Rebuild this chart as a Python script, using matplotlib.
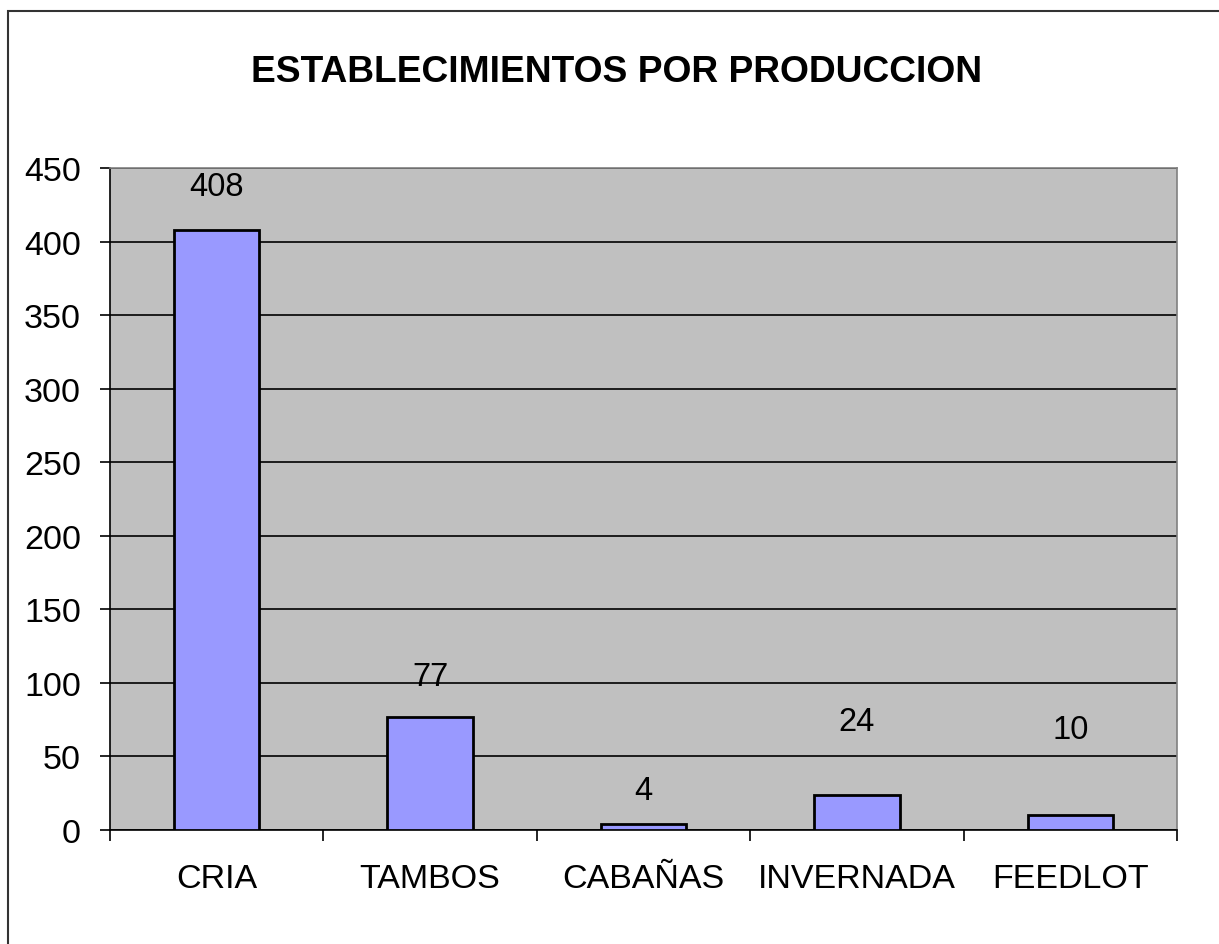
import matplotlib
matplotlib.use("Agg")
import matplotlib.pyplot as plt
from matplotlib.patches import Rectangle

categories = ["CRIA", "TAMBOS", "CABAÑAS", "INVERNADA", "FEEDLOT"]
values = [408, 77, 4, 24, 10]
yticks = [0, 50, 100, 150, 200, 250, 300, 350, 400, 450]
title = "ESTABLECIMIENTOS POR PRODUCCION"

# label offsets above bar tops (points) as placed in the original
label_offsets = [31, 29, 24, 53, 62]

plt.rcParams['font.family'] = ['Liberation Sans', 'DejaVu Sans']

fig = plt.figure(figsize=(12.19, 9.45), dpi=100)
fig.patch.set_facecolor('white')

# outer chart frame
fig.patches.append(Rectangle((8/1219, -0.05), 1.1, 1 - 12/945 + 0.05,
                             transform=fig.transFigure, fill=False,
                             edgecolor='#333333', linewidth=1.5))

ax = fig.add_axes([110/1219, 114/945, 1067/1219, 662/945])
ax.set_facecolor('#C0C0C0')

x = list(range(len(categories)))
ax.set_axisbelow(True)
ax.yaxis.grid(True, color='black', linewidth=1.2)
ax.bar(x, values, width=0.4, color='#9999FF', edgecolor='black', linewidth=2.0, zorder=3)

for xi, v, off in zip(x, values, label_offsets):
    ax.annotate(str(v), (xi, v), xytext=(0, off), textcoords='offset points',
                ha='center', va='center', fontsize=23.5)

ax.set_xlim(-0.5, len(categories) - 0.5)
ax.set_ylim(0, 450)
ax.set_yticks(yticks)
ax.set_yticklabels([str(t) for t in yticks], fontsize=24.5)
ax.tick_params(axis='y', direction='out', length=7, width=1.2, pad=14)

ax.set_xticks(x)
ax.set_xticklabels(categories, fontsize=24.5)
ax.tick_params(axis='x', which='major', length=0, pad=24)
ax.set_xticks([i - 0.5 for i in range(len(categories) + 1)], minor=True)
ax.tick_params(axis='x', which='minor', direction='out', length=8, width=1.2)

for s in ['left', 'bottom']:
    ax.spines[s].set_color('black')
    ax.spines[s].set_linewidth(1.2)
for s in ['top', 'right']:
    ax.spines[s].set_color('#808080')
    ax.spines[s].set_linewidth(1.2)

fig.text(617/1219, 1 - 72/945, title, ha='center', va='center',
         fontsize=26.7, fontweight='bold')

fig.savefig('out.png', dpi=100)
